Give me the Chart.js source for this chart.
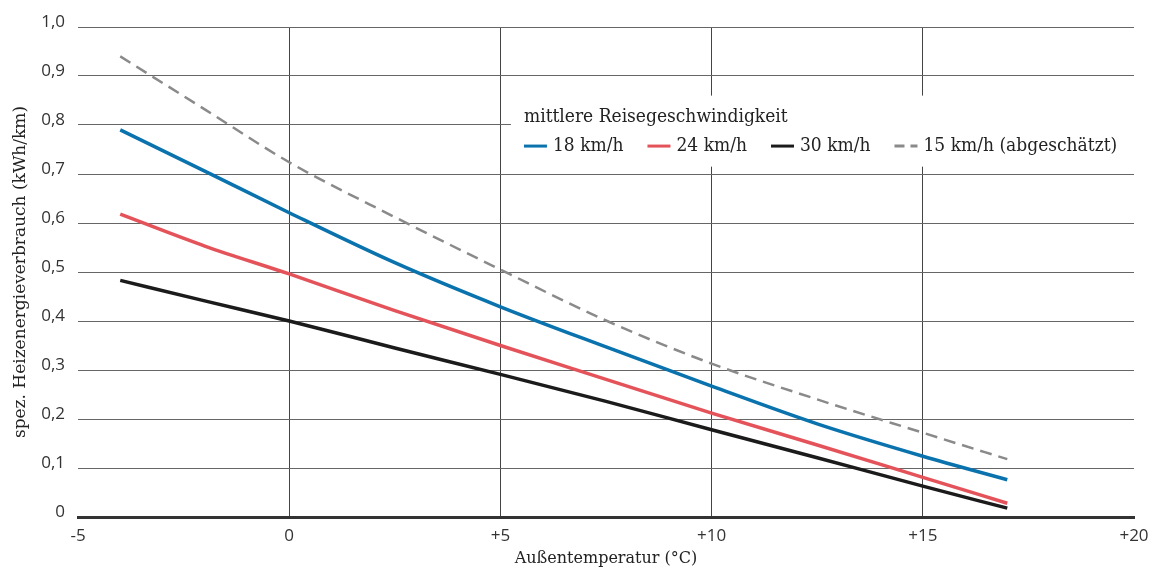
<!DOCTYPE html>
<html lang="de">
<head>
<meta charset="utf-8">
<title>Heizenergieverbrauch</title>
<script src="https://cdn.jsdelivr.net/npm/chart.js@4.4.1/dist/chart.umd.min.js"></script>
<style>
    html, body { margin: 0; padding: 0; background: #fff; }
    #wrap { width: 1152px; height: 569px; }
</style>
</head>
<body>
<div id="wrap"><canvas id="chart" width="1152" height="569"></canvas></div>
<script>
// Außentemperatur (°C), points
const temps = [-4, -2, 0, 2.5, 5, 7.5, 10, 12.5, 15, 17];

// spez. Heizenergieverbrauch (kWh/km) per travel speed
const speed18 = [0.790, 0.706, 0.621, 0.519, 0.429, 0.347, 0.267, 0.190, 0.124, 0.076];
const speed24 = [0.618, 0.553, 0.496, 0.421, 0.350, 0.281, 0.212, 0.147, 0.081, 0.028];
const speed30 = [0.483, 0.441, 0.400, 0.345, 0.291, 0.236, 0.178, 0.121, 0.063, 0.018];
const speed15 = [0.940, 0.832, 0.724, 0.612, 0.505, 0.401, 0.313, 0.240, 0.172, 0.118];

const seriesLabels = ['18 km/h', '24 km/h', '30 km/h', '15 km/h (abgeschätzt)'];
const legendTitle = 'mittlere Reisegeschwindigkeit';

// tick values and the labels printed for them
const xTicks = [-5, 0, 5, 10, 15, 20];
const xTickLabels = ['-5', '0', '+5', '+10', '+15', '+20'];
const yTicks = [0, 0.1, 0.2, 0.3, 0.4, 0.5, 0.6, 0.7, 0.8, 0.9, 1.0];
const yTickLabels = ['0', '0,1', '0,2', '0,3', '0,4', '0,5', '0,6', '0,7', '0,8', '0,9', '1,0'];

const slabFont = '"DejaVu Serif", serif';
const legendFont = '"DejaVu Serif Condensed", "DejaVu Serif", serif';
const tickFont = '"Open Sans", sans-serif';

function toPoints(values) {
    return values.map((v, i) => ({ x: temps[i], y: v }));
}

function lookupLabel(ticks, labels, value) {
    const i = ticks.findIndex(t => Math.abs(t - value) < 1e-6);
    return i >= 0 ? labels[i] : '';
}

// white panel over the grid + hand drawn legend (two rows, like the print)
const legendPanel = {
    id: 'legendPanel',
    beforeDatasetsDraw(chart) {
        const { ctx, scales: { x, y } } = chart;
        const left = x.getPixelForValue(5.25);
        const top = y.getPixelForValue(0.86);
        const bottom = y.getPixelForValue(0.715);
        ctx.save();
        ctx.fillStyle = '#fff';
        ctx.fillRect(left, top, chart.width - left, bottom - top);
        ctx.restore();
    },
    afterDraw(chart) {
        const { ctx, scales: { x, y } } = chart;
        const startX = x.getPixelForValue(5.25) + 13;
        const titleY = y.getPixelForValue(0.816);
        const rowY = y.getPixelForValue(0.757);

        ctx.save();
        ctx.font = '19px ' + legendFont;
        ctx.fillStyle = '#222';
        ctx.textBaseline = 'middle';
        ctx.fillText(legendTitle, startX, titleY);

        let cx = startX;
        chart.data.datasets.forEach(ds => {
            ctx.beginPath();
            ctx.strokeStyle = ds.borderColor;
            ctx.lineWidth = 3;
            ctx.setLineDash(ds.borderDash ? [10, 6] : []);
            ctx.moveTo(cx, rowY);
            ctx.lineTo(cx + 23, rowY);
            ctx.stroke();
            ctx.setLineDash([]);
            ctx.fillStyle = '#222';
            ctx.fillText(ds.label, cx + 29, rowY);
            cx += 29 + ctx.measureText(ds.label).width + 24;
        });
        ctx.restore();
    }
};

const ctx = document.getElementById('chart');
const chart = new Chart(ctx, {
    type: 'line',
    data: {
        datasets: [{
            label: seriesLabels[0],
            data: toPoints(speed18),
            borderColor: '#0a72ad',
        }, {
            label: seriesLabels[1],
            data: toPoints(speed24),
            borderColor: '#e5535a',
        }, {
            label: seriesLabels[2],
            data: toPoints(speed30),
            borderColor: '#1c1b1b',
        }, {
            label: seriesLabels[3],
            data: toPoints(speed15),
            borderColor: '#8a8a8a',
            borderWidth: 2.5,
            borderDash: [12, 7],
        }]
    },
    options: {
        responsive: false,
        animation: false,
        layout: {
            padding: { top: 27, right: 18, left: 0, bottom: 0 }
        },
        elements: {
            line: { borderWidth: 3.5, tension: 0.3, cubicInterpolationMode: 'monotone', fill: false },
            point: { radius: 0, hoverRadius: 0 }
        },
        plugins: {
            legend: { display: false },
            tooltip: { enabled: false }
        },
        scales: {
            x: {
                type: 'linear',
                min: -5,
                max: 20,
                afterBuildTicks: scale => { scale.ticks = xTicks.map(v => ({ value: v })); },
                afterFit: scale => {
                    // fixed axis band; the outer tick labels fit in the page padding
                    scale.height = 52;
                    scale.paddingLeft = 0;
                    scale.paddingRight = 0;
                },
                ticks: {
                    color: '#333',
                    padding: 9,
                    maxRotation: 0,
                    font: { family: tickFont, size: 17 },
                    callback: v => lookupLabel(xTicks, xTickLabels, v)
                },
                grid: {
                    drawTicks: false,
                    lineWidth: 1,
                    color: c => (c.tick && (c.tick.value === -5 || c.tick.value === 20)) ? 'rgba(0,0,0,0)' : '#444'
                },
                border: { display: true, color: '#333', width: 3 },
                title: {
                    display: true,
                    text: 'Außentemperatur (°C)',
                    color: '#222',
                    font: { family: slabFont, size: 16 },
                    padding: { top: 0, bottom: 1 }
                }
            },
            y: {
                min: 0,
                max: 1,
                afterBuildTicks: scale => { scale.ticks = yTicks.map(v => ({ value: v })); },
                afterFit: scale => { scale.width = 78; },
                ticks: {
                    color: '#333',
                    padding: 13,
                    labelOffset: -5,
                    font: { family: tickFont, size: 17 },
                    callback: v => lookupLabel(yTicks, yTickLabels, v)
                },
                grid: { drawTicks: false, color: '#666', lineWidth: 1 },
                border: { display: false },
                title: {
                    display: true,
                    text: 'spez. Heizenergieverbrauch (kWh/km)',
                    color: '#222',
                    font: { family: slabFont, size: 17 },
                    padding: { top: 10, bottom: 0 }
                }
            }
        }
    },
    plugins: [legendPanel]
});
</script>
</body>
</html>
